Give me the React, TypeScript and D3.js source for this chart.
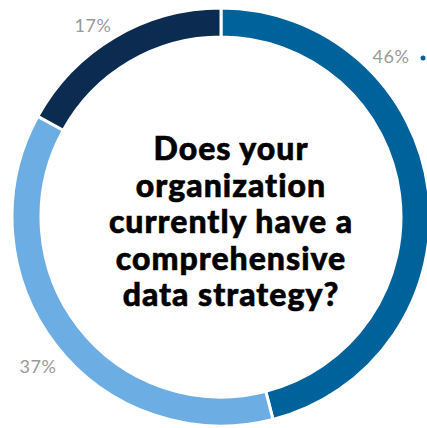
import React from 'react';
import * as d3 from 'd3';

const labels = ['46%', '37%', '17%'];
const values = [46, 37, 17];
const colors = ['#00629B', '#6CAEE4', '#0B2B50'];
const questionLines = ['Does your', 'organization', 'currently have a', 'comprehensive', 'data strategy?'];

const W = 427;
const H = 428;
const cx = 221;
const cy = 217;
const outerR = 209;
const innerR = 180;

const App: React.FC = () => {
  const pie = d3.pie<number>().sort(null).value((d) => d)(values);
  const arc = d3.arc<d3.PieArcDatum<number>>().innerRadius(innerR).outerRadius(outerR);

  // label positions (outside the ring, by slice)
  const labelPos = [
    { x: 391, y: 58 },
    { x: 38, y: 368 },
    { x: 93, y: 27 },
  ];

  return (
    <svg width={W} height={H} style={{ position: 'absolute', left: 0, top: 0 }}>
      <rect width={W} height={H} fill="#fff" />
      <g transform={`translate(${cx},${cy})`}>
        {pie.map((p, i) => (
          <path key={i} d={arc(p) || ''} fill={colors[i]} stroke="#fff" strokeWidth={3} />
        ))}
      </g>
      {labels.map((t, i) => (
        <text
          key={t}
          x={labelPos[i].x}
          y={labelPos[i].y}
          textAnchor="middle"
          dominantBaseline="middle"
          fontFamily="Lato, sans-serif"
          fontSize={18}
          letterSpacing={0.5}
          fill="#9a9a9a"
        >
          {t}
        </text>
      ))}
      <circle cx={423} cy={58} r={2.5} fill={colors[0]} />
      {questionLines.map((line, i) => (
        <text
          key={line}
          x={231}
          y={160 + i * 36.5}
          textAnchor="middle"
          fontFamily="Lato, sans-serif"
          fontWeight={900}
          fontSize={32}
          letterSpacing={1}
          stroke="#000"
          strokeWidth={0.6}
          fill="#000"
        >
          {line}
        </text>
      ))}
    </svg>
  );
};

export default App;
